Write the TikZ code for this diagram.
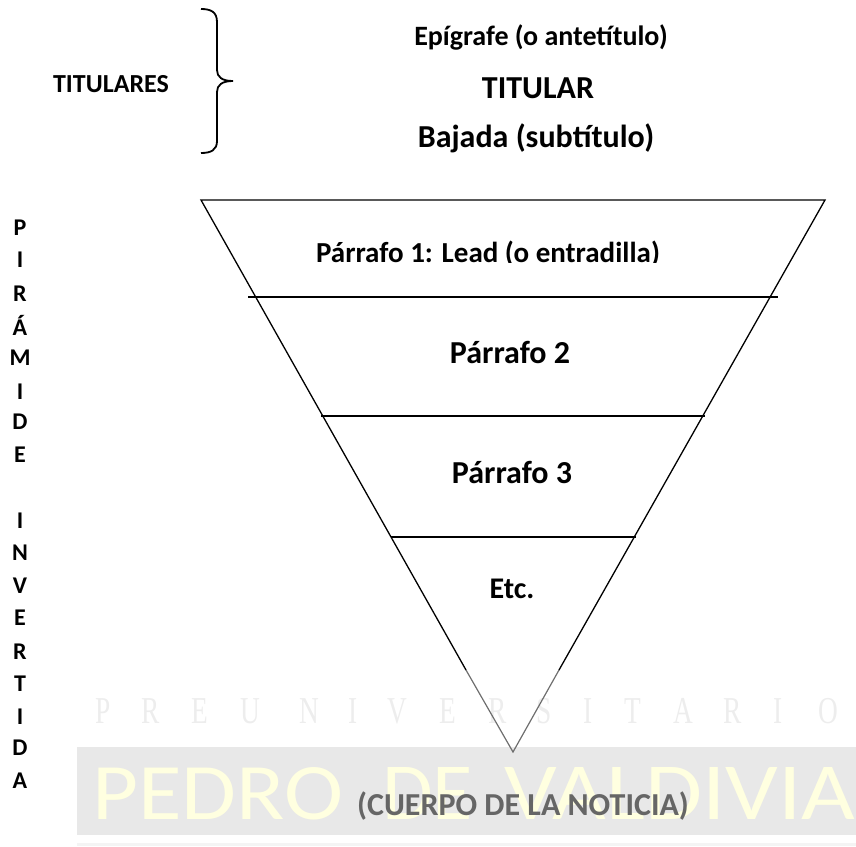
\documentclass[tikz,border=0pt]{standalone}
\usepackage{graphicx}
\usepackage{fontspec}
\setmainfont{Carlito}
\newfontfamily\wmserif{Liberation Serif}
\definecolor{bandgray}{HTML}{E8E8E8}
\definecolor{wmyellow}{HTML}{FFFFE0}
\definecolor{wmletter}{HTML}{EDEDED}
\definecolor{fadeline}{HTML}{6E6E6E}
\definecolor{fadetext}{HTML}{666666}
\tikzset{
  txt/.style={inner sep=0pt,anchor=center},
  side/.style={txt,font=\fontsize{24}{28}\selectfont\bfseries},
  pyr/.style={line width=1.3pt,black},
  fade/.style={line width=1.2pt,fadeline},
  wmtop/.style={txt,font=\fontsize{38}{40}\selectfont\wmserif,text=wmletter},
  wmbig/.style={inner sep=0pt,anchor=south west,font=\fontsize{80}{84}\selectfont,text=wmyellow},
}
\begin{document}
\begin{tikzpicture}[x=1pt,y=-1pt]
\useasboundingbox (0,0) rectangle (856,846);
% watermark
\fill[bandgray] (77,747) rectangle (856,835);
\fill[bandgray!50] (77,843) rectangle (856,846);
\foreach \ch/\xx in {P/103,R/151,E/200,U/250,N/309,I/353,V/397,E/448,R/498,S/544,I/588,T/633,A/683,R/733,I/778,O/828}{
  \node[wmtop] at (\xx,711) {\scalebox{0.72}[1]{\ch}};
}
\node[wmbig] (wm1) at (92,820) {\resizebox{251pt}{52pt}{PEDRO}};
\node[wmbig] (wm2) at (382,820) {\resizebox{91pt}{52pt}{DE}};
\node[wmbig] (wm3) at (504,820) {\resizebox{351pt}{52pt}{VALDIVIA}};
% coordinates
\coordinate (tl) at (201,200);
\coordinate (tr) at (825,200);
\coordinate (apex) at (513,752);
\coordinate (fl) at (466,670);
\coordinate (fr) at (559,670);
\coordinate (a1) at (248,297); \coordinate (b1) at (778,297);
\coordinate (a2) at (321,416); \coordinate (b2) at (705,416);
\coordinate (a3) at (391,537); \coordinate (b3) at (636,537);
% pyramid
\draw[fade] (fl) -- (apex) -- (fr);
\draw[pyr] (fl) -- (tl) -- (tr) -- (fr);
\draw[pyr] (a1) -- (b1);
\draw[pyr] (a2) -- (b2);
\draw[pyr] (a3) -- (b3);
% brace
\draw[line width=1.8pt]
  (201,9) .. controls (211,9) and (217,12) .. (217,22)
  -- (217,70) .. controls (217,77) and (222,81) .. (233,81)
  .. controls (222,81) and (217,85) .. (217,92)
  -- (217,141) .. controls (217,150) and (211,153) .. (201,153);
% texts
\node[txt,font=\fontsize{26}{28}\selectfont\bfseries] (titulares) at (111,84) {TITULARES};
\node[txt,font=\fontsize{28}{30}\selectfont\bfseries] (epi) at (541,37) {Epígrafe (o antetítulo)};
\node[txt,font=\fontsize{32}{34}\selectfont\bfseries] (tit) at (538,88) {TITULAR};
\node[txt,font=\fontsize{32}{34}\selectfont\bfseries] (baj) at (536,138) {Bajada (subtítulo)};
\begin{scope}
\clip (300,235) rectangle (680,262.5);
\node[txt,font=\fontsize{29}{32}\selectfont\bfseries] (p1) at (488,254) {Párrafo 1: Lead (o entradilla)};
\end{scope}
\node[txt,font=\fontsize{32}{36}\selectfont\bfseries] (p2) at (510,352) {Párrafo 2};
\node[txt,font=\fontsize{32}{36}\selectfont\bfseries] (p3) at (512,472) {Párrafo 3};
\node[txt,font=\fontsize{30}{32}\selectfont\bfseries] (etc) at (512,589) {Etc.};
\node[txt,font=\fontsize{32}{34}\selectfont\bfseries,text=fadetext] (cuerpo) at (523,806) {(CUERPO DE LA NOTICIA)};
\foreach \ch/\yy in {P/228,I/260,R/294,Á/325,M/358,I/392,D/422,E/455,I/521,N/553,V/586,E/618,R/652,T/684,I/717,D/748,A/781}{
  \node[side] at (20,\yy) {\ch};
}
\end{tikzpicture}
\end{document}
